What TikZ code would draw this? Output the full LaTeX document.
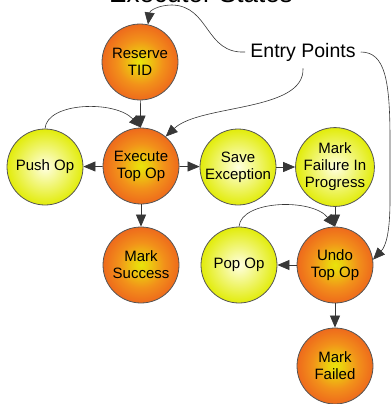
\documentclass[tikz,border=0pt]{standalone}
\usepackage{fontspec}
\setmainfont{Liberation Sans}
\usetikzlibrary{arrows.meta}
\definecolor{orEdge}{RGB}{238,106,28}
\definecolor{orMid}{RGB}{242,145,26}
\definecolor{orInner}{RGB}{236,205,15}
\definecolor{orCenter}{RGB}{232,228,10}
\definecolor{yeEdge}{RGB}{226,236,10}
\definecolor{yeCenter}{RGB}{255,255,225}
\definecolor{lineGray}{RGB}{55,55,55}
\definecolor{rimGray}{RGB}{85,85,85}
\pgfdeclareradialshading{orshade}{\pgfpoint{0bp}{0bp}}{color(0bp)=(orCenter); color(5bp)=(orInner); color(15bp)=(orMid); color(25bp)=(orEdge); color(50bp)=(orEdge)}
\pgfdeclareradialshading{yeshade}{\pgfpoint{0bp}{0bp}}{color(0bp)=(yeCenter); color(25bp)=(yeEdge); color(50bp)=(yeEdge)}
\tikzset{
  ballnode/.style={circle, draw=rimGray, line width=0.8pt, minimum size=76pt, inner sep=0pt, align=center, font=\fontsize{15}{17}\selectfont},
  orst/.style={ballnode, shading=orshade},
  yest/.style={ballnode, shading=yeshade},
  conn/.style={draw=lineGray, line width=0.7pt, -{Triangle[length=12pt,width=10pt]}},
  curv/.style={draw=lineGray, line width=0.6pt, -{Triangle[length=12pt,width=10pt]}}
}
\begin{document}
\begin{tikzpicture}[x=1pt,y=-1pt]
\useasboundingbox (0,0) rectangle (391,404);
\clip (0,0) rectangle (391,404);
\node[anchor=base, font=\fontsize{26}{30}\selectfont, inner sep=0pt] (title) at (201,3) {Executor States};
\node[font=\fontsize{19.5}{22}\selectfont, inner xsep=5pt, inner ysep=7pt] (entry) at (303,52) {Entry Points};

\node[orst] (reserve) at (140,62) {Reserve\\TID};
\node[orst] (exec) at (141,166) {Execute\\Top Op};
\node[yest] (push) at (45,167) {Push Op};
\node[yest] (save) at (238,167) {Save\\Exception};
\node[yest] (markfip) at (335,167) {Mark\\Failure In\\Progress};
\node[orst] (success) at (141,265) {Mark\\Success};
\node[yest] (pop) at (239,265) {Pop Op};
\node[orst] (undo) at (335,265) {Undo\\Top Op};
\node[orst] (failed) at (335,366) {Mark\\Failed};

\draw[conn] (reserve) -- (exec);
\draw[conn] (exec) -- (push);
\draw[conn] (exec) -- (save);
\draw[conn] (save) -- (markfip);
\draw[conn] (exec) -- (success);
\draw[conn] (markfip) -- (undo);
\draw[conn] (undo) -- (pop);
\draw[conn] (undo) -- (failed);

\draw[curv] (push.north) .. controls (47,102) and (115,100) .. (exec.north);
\draw[curv] (pop.north) .. controls (241,200) and (312,198) .. (undo.north);

\draw[curv] (entry.west) .. controls (205,54) and (210,6) .. (172,5) .. controls (160,5) and (150,10) .. (reserve.78);
\draw[curv] (entry.south) .. controls (305,112) and (200,104) .. (exec.50);
\draw[curv] (entry.east) .. controls (385,52) and (390,80) .. (390,140) -- (390,200) .. controls (390,232) and (386,246) .. (undo.8);
\end{tikzpicture}
\end{document}
